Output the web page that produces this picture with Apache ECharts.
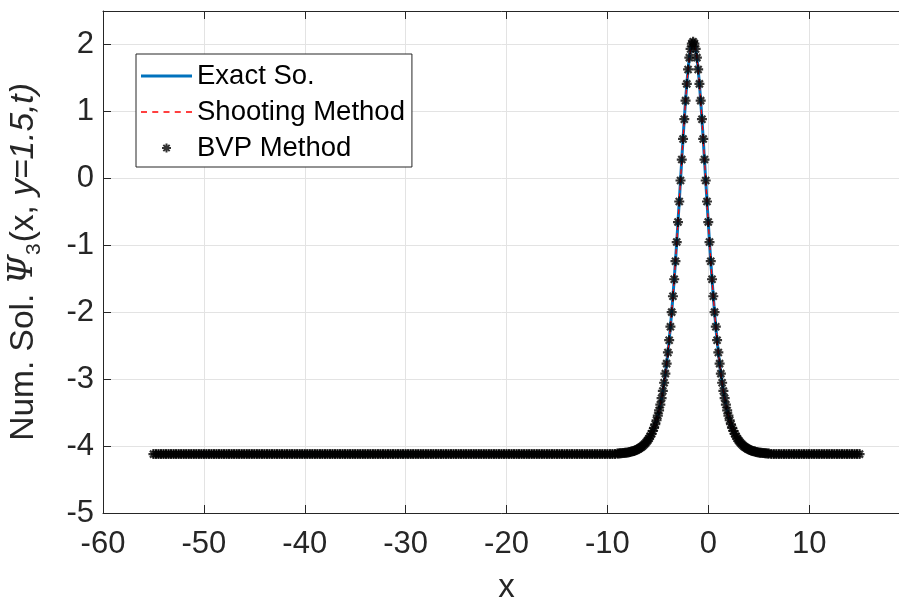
<!DOCTYPE html>
<html>
<head>
<meta charset="utf-8">
<script src="https://cdn.jsdelivr.net/npm/echarts@6/dist/echarts.min.js"></script>
<style>
  html, body { margin: 0; padding: 0; background: #fff; }
  #chart { width: 899px; height: 602px; }
</style>
</head>
<body>
<div id="chart"></div>
<script>
// flat level
var baseLevel = -4.12;
var xLeftTail = [
  -55,-54.75,-54.5,-54.25,-54,-53.75,-53.5,-53.25,-53,-52.75,-52.5,-52.25,-52,-51.75,-51.5,-51.25,-51,-50.75,-50.5,-50.25,
  -50,-49.75,-49.5,-49.25,-49,-48.75,-48.5,-48.25,-48,-47.75,-47.5,-47.25,-47,-46.75,-46.5,-46.25,-46,-45.75,-45.5,-45.25,
  -45,-44.75,-44.5,-44.25,-44,-43.75,-43.5,-43.25,-43,-42.75,-42.5,-42.25,-42,-41.75,-41.5,-41.25,-41,-40.75,-40.5,-40.25,
  -40,-39.75,-39.5,-39.25,-39,-38.75,-38.5,-38.25,-38,-37.75,-37.5,-37.25,-37,-36.75,-36.5,-36.25,-36,-35.75,-35.5,-35.25,
  -35,-34.75,-34.5,-34.25,-34,-33.75,-33.5,-33.25,-33,-32.75,-32.5,-32.25,-32,-31.75,-31.5,-31.25,-31,-30.75,-30.5,-30.25,
  -30,-29.75,-29.5,-29.25,-29,-28.75,-28.5,-28.25,-28,-27.75,-27.5,-27.25,-27,-26.75,-26.5,-26.25,-26,-25.75,-25.5,-25.25,
  -25,-24.75,-24.5,-24.25,-24,-23.75,-23.5,-23.25,-23,-22.75,-22.5,-22.25,-22,-21.75,-21.5,-21.25,-21,-20.75,-20.5,-20.25,
  -20,-19.75,-19.5,-19.25,-19,-18.75,-18.5,-18.25,-18,-17.75,-17.5,-17.25,-17,-16.75,-16.5,-16.25,-16,-15.75,-15.5,-15.25,
  -15,-14.75,-14.5,-14.25,-14,-13.75,-13.5,-13.25,-13,-12.75,-12.5,-12.25,-12,-11.75,-11.5,-11.25,-11,-10.75,-10.5,-10.25,
  -10,-9.75,-9.5,-9.25];
var xRightTail = [6.25,6.5,6.75,7,7.25,7.5,7.75,8,8.25,8.5,8.75,9,9.25,9.5,9.75,10,10.25,10.5,10.75,11,
  11.25,11.5,11.75,12,12.25,12.5,12.75,13,13.25,13.5,13.75,14,14.25,14.5,14.75,15];

// peak region
var xPeak = [-9,-8.875,-8.75,-8.625,-8.5,-8.375,-8.25,-8.125,-8,-7.875,-7.75,-7.625,-7.5,-7.375,-7.25,-7.125,
  -7,-6.875,-6.75,-6.625,-6.5,-6.375,-6.25,-6.125,-6,-5.875,-5.75,-5.625,-5.5,-5.375,-5.25,-5.125,
  -5,-4.875,-4.75,-4.625,-4.5,-4.375,-4.25,-4.125,-4,-3.875,-3.75,-3.625,-3.5,-3.375,-3.25,-3.125,
  -3,-2.875,-2.75,-2.625,-2.5,-2.375,-2.25,-2.125,-2,-1.875,-1.75,-1.625,-1.5,
  -1.375,-1.25,-1.125,-1,-0.875,-0.75,-0.625,-0.5,-0.375,-0.25,-0.125,0,0.125,0.25,0.375,0.5,
  0.625,0.75,0.875,1,1.125,1.25,1.375,1.5,1.625,1.75,1.875,2,2.125,2.25,2.375,2.5,
  2.625,2.75,2.875,3,3.125,3.25,3.375,3.5,3.625,3.75,3.875,4,4.125,4.25,4.375,4.5,
  4.625,4.75,4.875,5,5.125,5.25,5.375,5.5,5.625,5.75,5.875,6];
var yPeak = [-4.111,-4.110,-4.109,-4.107,-4.105,-4.103,-4.101,-4.098,-4.095,-4.092,
  -4.088,-4.083,-4.078,-4.072,-4.065,-4.057,-4.048,-4.038,-4.026,-4.013,
  -3.998,-3.981,-3.962,-3.940,-3.915,-3.886,-3.854,-3.817,-3.775,-3.728,
  -3.674,-3.614,-3.545,-3.468,-3.382,-3.284,-3.176,-3.054,-2.918,-2.768,
  -2.601,-2.418,-2.217,-1.999,-1.762,-1.508,-1.238,-0.952,-0.653,-0.346,
  -0.032,0.281,0.589,0.884,1.161,1.411,1.627,1.803,1.933,2.013,
  2.040,
  2.013,1.933,1.803,1.627,1.411,1.161,0.884,0.589,0.281,-0.032,
  -0.346,-0.653,-0.952,-1.238,-1.508,-1.762,-1.999,-2.217,-2.418,-2.601,
  -2.768,-2.918,-3.054,-3.176,-3.284,-3.382,-3.468,-3.545,-3.614,-3.674,
  -3.728,-3.775,-3.817,-3.854,-3.886,-3.915,-3.940,-3.962,-3.981,-3.998,
  -4.013,-4.026,-4.038,-4.048,-4.057,-4.065,-4.072,-4.078,-4.083,-4.088,
  -4.092,-4.095,-4.098,-4.101,-4.103,-4.105,-4.107,-4.109,-4.110,-4.111];

var xTicks = [-60, -50, -40, -30, -20, -10, 0, 10];
var yTicks = [-5, -4, -3, -2, -1, 0, 1, 2];

var pts = [];
xLeftTail.forEach(function (x) { pts.push([x, baseLevel]); });
xPeak.forEach(function (x, i) { pts.push([x, yPeak[i]]); });
xRightTail.forEach(function (x) { pts.push([x, baseLevel]); });

var ink = '#262626';
var font = 'Liberation Sans, Arial, Helvetica, sans-serif';
var star = 'path://M5,0L5,10M0,5L10,5M1.5,1.5L8.5,8.5M1.5,8.5L8.5,1.5';
// legend glyphs (keep aspect in legend)
var solidIcon = 'path://M0,0H51V3H0Z';
var dashIcon = 'path://M0,0H6V1.3H0Z M11.25,0H17.25V1.3H11.25Z M22.5,0H28.5V1.3H22.5Z M33.75,0H39.75V1.3H33.75Z M45,0H51V1.3H45Z';

var chart = echarts.init(document.getElementById('chart'));
var option = {
  backgroundColor: '#fff',
  animation: false,
  textStyle: { fontFamily: font, color: ink },
  grid: { left: 103, top: 11, width: 807, height: 502, outerBoundsMode: 'none' },
  legend: {
    left: 136, top: 54,
    orient: 'vertical',
    backgroundColor: '#fff',
    borderColor: ink, borderWidth: 1,
    padding: [8, 7, 5, 5],
    itemWidth: 51, itemHeight: 9, itemGap: 8,
    textStyle: { fontSize: 27.5, color: '#000', fontFamily: font, lineHeight: 26 },
    data: [
      { name: 'Exact So.', icon: solidIcon, itemStyle: { color: '#0072BD' } },
      { name: 'Shooting Method', icon: dashIcon, itemStyle: { color: '#FF0000' } },
      { name: 'BVP Method' }
    ]
  },
  xAxis: [{
    type: 'value', min: -60, max: 20, interval: 10,
    name: 'x', nameLocation: 'middle', nameGap: 58,
    nameTextStyle: { fontSize: 33, color: ink, fontFamily: font },
    axisLine: { onZero: false, lineStyle: { color: ink, width: 1 } },
    axisTick: { inside: true, length: 8, lineStyle: { color: ink } },
    axisLabel: {
      fontSize: 31, color: ink, margin: 16,
      formatter: function (v) { return xTicks.indexOf(v) >= 0 ? String(v) : ''; }
    },
    splitLine: { lineStyle: { color: '#e3e3e3', width: 1 } }
  }, {
    type: 'value', min: -60, max: 20, interval: 10, position: 'top',
    axisLine: { onZero: false, lineStyle: { color: ink, width: 1 } },
    axisTick: { inside: true, length: 8, lineStyle: { color: ink } },
    axisLabel: { show: false },
    splitLine: { show: false }
  }],
  yAxis: {
    type: 'value', min: -5, max: 2.5, interval: 1,
    name: 'Num. Sol. {psi|Ψ}{sub|3}(x, {it|y=1.5,t)}',
    nameLocation: 'middle', nameRotate: 90, nameGap: 58,
    nameTextStyle: {
      fontSize: 33.5, color: ink, fontFamily: font,
      rich: {
        psi: { fontSize: 33.5, fontStyle: 'italic', fontFamily: 'DejaVu Serif', color: ink },
        sub: { fontSize: 21, color: ink, fontFamily: font, padding: [22, 1, 0, 0] },
        it: { fontSize: 33.5, fontStyle: 'italic', color: ink, fontFamily: font }
      }
    },
    axisLine: { onZero: false, lineStyle: { color: ink, width: 1 } },
    axisTick: { inside: true, length: 8, lineStyle: { color: ink } },
    axisLabel: {
      fontSize: 31, color: ink, margin: 9,
      formatter: function (v) { return yTicks.indexOf(v) >= 0 ? String(v) : ''; }
    },
    splitLine: { lineStyle: { color: '#e3e3e3', width: 1 } }
  },
  series: [{
    name: 'Exact So.', type: 'line', data: pts, symbol: 'none',
    lineStyle: { color: '#0072BD', width: 3 }, itemStyle: { color: '#0072BD' }, z: 2
  }, {
    name: 'Shooting Method', type: 'line', data: pts, symbol: 'none',
    lineStyle: { color: '#FF0000', width: 1.3, type: [5, 3] }, itemStyle: { color: '#FF0000' }, z: 3
  }, {
    name: 'BVP Method', type: 'scatter', data: pts,
    symbol: star, symbolSize: 10,
    itemStyle: { color: '#000', borderColor: '#000', borderWidth: 2.2 }, z: 4
  }]
};
chart.setOption(option);
</script>
</body>
</html>
